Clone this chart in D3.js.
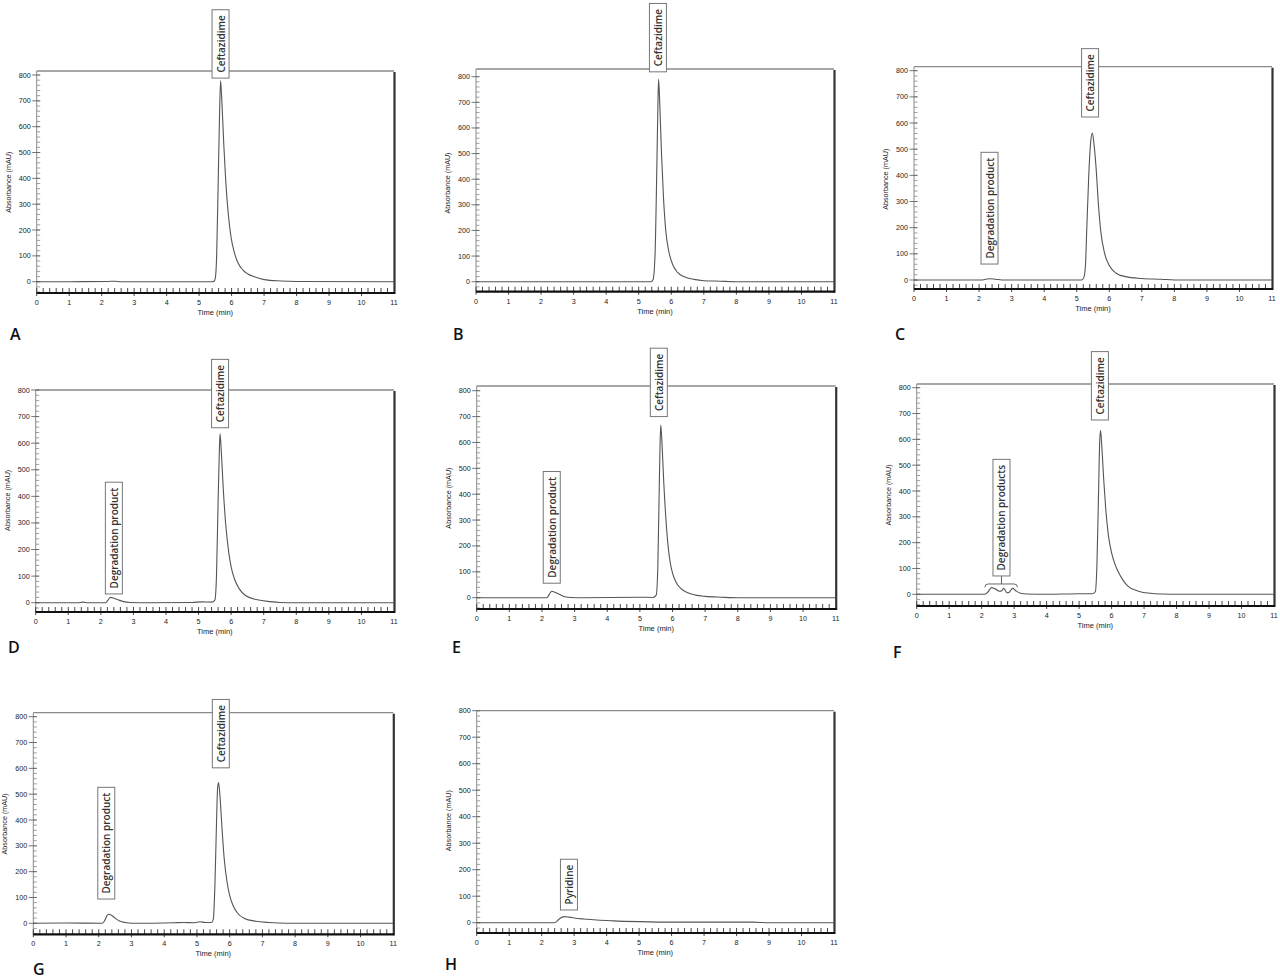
<!DOCTYPE html>
<html>
<head>
<meta charset="utf-8">
<script src="https://cdn.jsdelivr.net/npm/d3@7"></script>
<style>
  body { margin: 0; background: #fff; }
  svg { display: block; }
</style>
</head>
<body>
<div id="chart"></div>
<script>
// tick labels
const timeTicks = [0, 1, 2, 3, 4, 5, 6, 7, 8, 9, 10, 11];
const absTicks = [0, 100, 200, 300, 400, 500, 600, 700, 800];

// chromatograms, [time (min), absorbance (mAU)]
const traceA = [[0,0],[1,0],[2.2,1],[2.4,2],[2.6,0],[5.4,0],[5.46,2],[5.5,15],[5.54,100],[5.59,400],[5.63,650],[5.66,778],
  [5.7,700],[5.76,530],[5.82,390],[5.9,260],[5.98,175],[6.08,115],[6.2,72],[6.35,45],[6.5,30],[6.7,19],[7,8],[7.5,3],[8,1],[11,0]];
const traceB = [[0,0],[2.5,0],[5.38,0],[5.44,8],[5.5,100],[5.55,400],[5.59,690],[5.61,790],[5.65,680],[5.7,500],[5.76,330],
  [5.83,200],[5.93,115],[6.05,65],[6.2,35],[6.4,19],[6.7,9],[7,4],[7.5,2],[8,0],[11,0]];
const traceC = [[0,0],[2.1,0],[2.3,5],[2.5,3],[2.7,0],[5.15,0],[5.22,10],[5.27,60],[5.31,200],[5.37,400],[5.43,530],
  [5.48,562],[5.53,520],[5.6,420],[5.66,300],[5.74,185],[5.86,100],[6.0,55],[6.2,27],[6.5,13],[7.0,6],[7.6,3],[8,0],[11,0]];
const traceD = [[0,0],[1.3,0],[1.45,2],[1.6,0],[2.15,0],[2.22,10],[2.3,20],[2.4,17],[2.55,10],[2.7,4],[2.9,1],[3.5,0],
  [4.8,1],[5.1,3],[5.4,2],[5.5,10],[5.55,100],[5.6,380],[5.64,580],[5.66,635],[5.7,565],[5.76,425],[5.83,300],[5.92,195],
  [6.0,135],[6.1,90],[6.25,52],[6.45,26],[6.8,11],[7.2,4],[7.5,1],[8,0],[11,0]];
const traceE = [[0,0],[2.15,0],[2.22,12],[2.3,25],[2.42,20],[2.55,12],[2.7,4],[2.9,1],[3.2,0],[5,2],[5.4,1],[5.5,10],
  [5.55,120],[5.59,400],[5.62,600],[5.64,667],[5.68,590],[5.73,450],[5.8,300],[5.86,205],[5.93,135],[6.0,95],[6.1,62],
  [6.25,36],[6.45,20],[6.7,10],[7,5],[7.5,2],[8,0],[11,0]];
const traceF = [[0,0],[2.1,0],[2.2,10],[2.3,26],[2.4,22],[2.55,12],[2.62,14],[2.68,23],[2.78,6],[2.85,8],[2.95,23],
  [3.05,14],[3.2,4],[3.4,1],[4,0],[5,2],[5.4,2],[5.5,10],[5.55,120],[5.6,400],[5.63,580],[5.66,635],[5.7,570],[5.76,440],
  [5.82,330],[5.9,230],[6.0,160],[6.1,118],[6.2,88],[6.35,55],[6.5,32],[6.8,13],[7.2,4],[7.6,1],[8,0],[11,0]];
const traceG = [[0,0],[1,1],[2.1,0],[2.18,10],[2.25,30],[2.3,35],[2.4,30],[2.5,20],[2.65,8],[2.8,3],[3,0],[4.3,2],[4.6,3],
  [4.9,2],[5.1,6],[5.25,3],[5.45,3],[5.5,15],[5.55,150],[5.6,400],[5.63,520],[5.66,545],[5.7,500],[5.76,380],[5.83,255],
  [5.92,160],[6.0,108],[6.1,70],[6.25,38],[6.45,19],[6.8,8],[7.2,3],[7.5,1],[8,0],[11,0]];
const traceH = [[0,0],[2.4,0],[2.45,3],[2.55,15],[2.7,23],[2.85,21],[3,18],[3.3,14],[3.7,10],[4.2,7],[5,4],[6,2],[7,2],
  [8.5,2],[9,0],[11,0]];

// peak labels: text, time of box centre, absorbance at box bottom
const labelsA = [{ text: "Ceftazidime", t: 5.66, v: 788 }];
const labelsB = [{ text: "Ceftazidime", t: 5.59, v: 819 }];
const labelsC = [{ text: "Ceftazidime", t: 5.41, v: 623 }, { text: "Degradation product", t: 2.32, v: 61 }];
const labelsD = [{ text: "Ceftazidime", t: 5.66, v: 658 }, { text: "Degradation product", t: 2.4, v: 33 }];
const labelsE = [{ text: "Ceftazidime", t: 5.58, v: 700 }, { text: "Degradation product", t: 2.3, v: 56 }];
const labelsF = [{ text: "Ceftazidime", t: 5.64, v: 675 }, { text: "Degradation products", t: 2.61, v: 71 }];
const labelsG = [{ text: "Ceftazidime", t: 5.73, v: 602 }, { text: "Degradation product", t: 2.23, v: 94 }];
const labelsH = [{ text: "Pyridine", t: 2.84, v: 48 }];

const panelNames = ["A", "B", "C", "D", "E", "F", "G", "H"];
const traces = [traceA, traceB, traceC, traceD, traceE, traceF, traceG, traceH];
const labels = [labelsA, labelsB, labelsC, labelsD, labelsE, labelsF, labelsG, labelsH];

// where each panel sits on the page
const layout = {
  A: { x0: 36.7, x1: 394, y800: 75, y0: 281.7, top: 71, bottom: 293, lx: 10, ly: 340 },
  B: { x0: 476, x1: 834, y800: 76.7, y0: 281.7, top: 69, bottom: 291.7, lx: 453, ly: 340 },
  C: { x0: 914, x1: 1272, y800: 70.7, y0: 280, top: 66.7, bottom: 289, lx: 895, ly: 340 },
  D: { x0: 35.7, x1: 394, y800: 390, y0: 602.7, top: 390, bottom: 612, lx: 8, ly: 653 },
  E: { x0: 476.7, x1: 835.7, y800: 390.7, y0: 597.7, top: 386, bottom: 609, lx: 452, ly: 653 },
  F: { x0: 916.7, x1: 1274, y800: 387.7, y0: 594.3, top: 384, bottom: 606, lx: 893, ly: 658 },
  G: { x0: 33.3, x1: 393.3, y800: 716.7, y0: 923.3, top: 712.7, bottom: 934.3, lx: 33, ly: 975 },
  H: { x0: 476.7, x1: 834, y800: 710.7, y0: 922.7, top: 710.7, bottom: 933, lx: 445, ly: 970 }
};

const W = 1280, H = 979;
const svg = d3.select("#chart").append("svg").attr("width", W).attr("height", H);
const tickFont = "'Liberation Sans', Arial, sans-serif";
const labelFont = "'Open Sans', 'Noto Sans', sans-serif";

panelNames.forEach((name, i) => {
  const L = layout[name];
  const g = svg.append("g");

  const x = d3.scaleLinear().domain([0, 11]).range([L.x0, L.x1]);
  const y = d3.scaleLinear().domain([0, 800]).range([L.y0, L.y800]);
  const vBottom = y.invert(L.bottom);

  // frame
  g.append("line").attr("x1", L.x0).attr("x2", L.x1).attr("y1", L.top).attr("y2", L.top)
    .attr("stroke", "#8a8a8a").attr("stroke-width", 1.3);
  g.append("line").attr("x1", L.x0).attr("x2", L.x0).attr("y1", L.top).attr("y2", L.bottom)
    .attr("stroke", "#8a8a8a").attr("stroke-width", 1);
  g.append("line").attr("x1", L.x1 + 0.5).attr("x2", L.x1 + 0.5).attr("y1", L.top + 1).attr("y2", L.bottom + 1)
    .attr("stroke", "#333").attr("stroke-width", 2.2);

  // y ticks: minor every 20, major every 100
  const minor = d3.range(-40, 801, 20).filter(v => v > vBottom + 2);
  g.selectAll(".ymin").data(minor).enter().append("line")
    .attr("x1", L.x0).attr("x2", L.x0 + 3.5)
    .attr("y1", d => y(d)).attr("y2", d => y(d))
    .attr("stroke", "#888").attr("stroke-width", 0.8);
  g.selectAll(".ymaj").data(absTicks).enter().append("line")
    .attr("x1", L.x0 - 4.5).attr("x2", L.x0 + 3.5)
    .attr("y1", d => y(d)).attr("y2", d => y(d))
    .attr("stroke", "#666").attr("stroke-width", 0.9);
  g.selectAll(".ylab").data(absTicks).enter().append("text")
    .attr("x", L.x0 - 6).attr("y", d => y(d) + 2.5)
    .attr("text-anchor", "end").attr("font-family", tickFont).attr("font-size", 7.2)
    .attr("fill", "#222").text(d => d);
  g.append("text")
    .attr("transform", `translate(${L.x0 - 26},${(y(-45) + y(815)) / 2}) rotate(-90)`)
    .attr("text-anchor", "middle").attr("font-family", tickFont).attr("font-size", 7.2)
    .attr("fill", "#222").text("Absorbance (mAU)");

  // x axis: heavy black base line with ticks every 0.2 min
  const xt = d3.range(0, 55).map(k => k / 5);
  g.selectAll(".xmin").data(xt).enter().append("line")
    .attr("x1", d => x(d)).attr("x2", d => x(d))
    .attr("y1", L.bottom - 5).attr("y2", d => Math.abs(d - Math.round(d)) < 1e-6 ? L.bottom + 3 : L.bottom)
    .attr("stroke", "#333").attr("stroke-width", 0.9);
  g.append("line").attr("x1", L.x0).attr("x2", L.x1 + 1).attr("y1", L.bottom).attr("y2", L.bottom)
    .attr("stroke", "#111").attr("stroke-width", 2.2);
  g.selectAll(".xlab").data(timeTicks).enter().append("text")
    .attr("x", d => x(d)).attr("y", L.bottom + 12)
    .attr("text-anchor", "middle").attr("font-family", tickFont).attr("font-size", 7.2)
    .attr("fill", "#222").text(d => d);
  g.append("text").attr("x", x(5.5)).attr("y", L.bottom + 22)
    .attr("text-anchor", "middle").attr("font-family", tickFont).attr("font-size", 7.5)
    .attr("fill", "#222").text("Time (min)");

  // trace
  const line = d3.line().x(d => x(d[0])).y(d => y(d[1])).curve(d3.curveMonotoneX);
  g.append("path").datum(traces[i]).attr("d", line)
    .attr("fill", "none").attr("stroke", "#555").attr("stroke-width", 1.1);

  // bracket over the degradation products in F
  if (name === "F") {
    const by = y(40);
    g.append("path")
      .attr("d", `M${x(2.1)},${y(27)} Q${x(2.1)},${by} ${x(2.2)},${by} L${x(3.0)},${by} Q${x(3.1)},${by} ${x(3.1)},${y(27)}`)
      .attr("fill", "none").attr("stroke", "#666").attr("stroke-width", 1);
    g.append("line").attr("x1", x(2.61)).attr("x2", x(2.61)).attr("y1", by).attr("y2", y(71))
      .attr("stroke", "#666").attr("stroke-width", 1);
  }

  // peak label boxes
  labels[i].forEach(lab => {
    const cx = x(lab.t), by = y(lab.v);
    const box = g.append("rect");
    const txt = g.append("text")
      .attr("transform", `translate(${cx + 4},${by - 5.5}) rotate(-90)`)
      .attr("font-family", labelFont).attr("font-weight", 600).attr("font-size", 10)
      .attr("fill", "#333").text(lab.text);
    const len = txt.node().getComputedTextLength();
    box.attr("x", cx - 8.5).attr("y", by - len - 11).attr("width", 17).attr("height", len + 11)
      .attr("fill", "#fff").attr("stroke", "#777").attr("stroke-width", 1);
  });

  // panel letter
  g.append("text").attr("x", L.lx).attr("y", L.ly)
    .attr("font-family", labelFont).attr("font-weight", 600).attr("font-size", 16)
    .attr("fill", "#111").text(name);
});
</script>
</body>
</html>
